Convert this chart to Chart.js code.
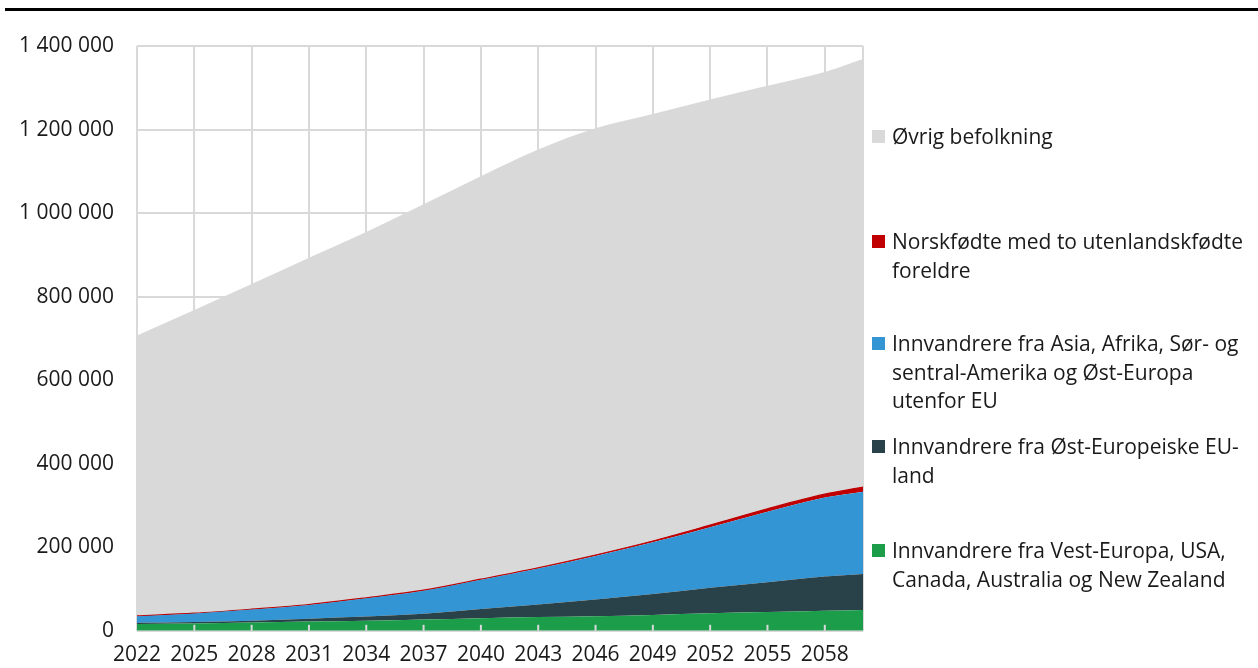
<!DOCTYPE html>
<html>
<head>
    <title>Befolkning</title>
    <script src="https://cdn.jsdelivr.net/npm/chart.js"></script>
    <style>
body{
    margin: 0;
    background-color: #ffffff;
    font-family: "Open Sans", sans-serif;
}
#wrap{
    position: relative;
    width: 1258px;
    height: 668px;
}
#topline{
    position: absolute;
    left: 5px;
    right: 0;
    top: 8px;
    height: 3px;
    background: #000000;
}
.legend-item{
    position: absolute;
    left: 872px;
    width: 384px;
    font-size: 21px;
    line-height: 28.5px;
    color: #1a1a1a;
}
.legend-item .box{
    position: absolute;
    left: 0;
    top: 8px;
    width: 13px;
    height: 13px;
}
.legend-item .txt{
    margin-left: 20px;
    width: 364px;
}
    </style>
</head>
<body>
<div id="wrap">
    <div id="topline"></div>
    <canvas id="popChart"></canvas>
    <div id="legend"></div>
</div>

<script>
const years = [2022, 2025, 2028, 2031, 2034, 2037, 2040, 2043, 2046, 2049, 2052, 2055, 2058, 2060];
const tickYears = [2022, 2025, 2028, 2031, 2034, 2037, 2040, 2043, 2046, 2049, 2052, 2055, 2058, 2060];

const seriesNames = [
    'Innvandrere fra Vest-Europa, USA, Canada, Australia og New Zealand',
    'Innvandrere fra Øst-Europeiske EU-land',
    'Innvandrere fra Asia, Afrika, Sør- og sentral-Amerika og Øst-Europa utenfor EU',
    'Norskfødte med to utenlandskfødte foreldre',
    'Øvrig befolkning'
];
const seriesColors = ['#1c9d4a', '#29424a', '#3395d3', '#c00000', '#d9d9d9'];

// values per series (persons), bottom to top of the stack
const vestEuropa = [16000, 17500, 20000, 22000, 24000, 27000, 30000, 33000, 35000, 38000, 42000, 45000, 48000, 50000];
const ostEU      = [3000, 3500, 4000, 7000, 10000, 14000, 22000, 30000, 40000, 50000, 61000, 71000, 82000, 86000];
const asiaAfrika = [16000, 20500, 27000, 33000, 44000, 55000, 70000, 86000, 104000, 124000, 145000, 169000, 189000, 197000];
const norskfodte = [500, 600, 800, 1000, 1000, 1200, 1500, 2000, 2500, 3000, 5000, 7000, 8000, 11000];
const ovrige     = [671500, 725900, 778200, 830000, 876000, 923800, 964500, 1001000, 1021500, 1022000, 1019000, 1013000, 1011000, 1025000];

const allSeries = [vestEuropa, ostEU, asiaAfrika, norskfodte, ovrige];

function spaced(v) {
    return String(v).replace(/\B(?=(\d{3})+(?!\d))/g, ' ');
}

const datasets = allSeries.map((vals, i) => ({
    label: seriesNames[i],
    data: vals.map((v, j) => ({x: years[j], y: v})),
    backgroundColor: seriesColors[i],
    borderColor: seriesColors[i],
    borderWidth: i === 3 ? 1.2 : 0,
    pointRadius: 0,
    cubicInterpolationMode: 'monotone',
    fill: i === 0 ? 'origin' : '-1'
}));

// small tick marks that sit inside the plot, over the areas
const innerTicks = {
    id: 'innerTicks',
    afterDatasetsDraw(chart) {
        const ctx = chart.ctx;
        const xs = chart.scales.x;
        const bottom = chart.chartArea.bottom;
        ctx.save();
        ctx.strokeStyle = '#d9d9d9';
        ctx.lineWidth = 2;
        tickYears.slice(1, -1).forEach(yr => {
            const px = xs.getPixelForValue(yr);
            ctx.beginPath();
            ctx.moveTo(px, bottom - 6);
            ctx.lineTo(px, bottom);
            ctx.stroke();
        });
        ctx.restore();
    }
};

Chart.defaults.font.family = '"Open Sans", sans-serif';
Chart.defaults.font.size = 21;
Chart.defaults.color = '#1a1a1a';

new Chart(document.getElementById('popChart'), {
    type: 'line',
    data: {datasets: datasets},
    plugins: [innerTicks],
    options: {
        responsive: true,
        maintainAspectRatio: false,
        animation: false,
        layout: {padding: {top: 46, right: 395, bottom: -12, left: 0}},
        plugins: {
            legend: {display: false},
            tooltip: {enabled: false}
        },
        scales: {
            x: {
                type: 'linear',
                min: 2022,
                max: 2060,
                afterBuildTicks: s => { s.ticks = tickYears.map(v => ({value: v})); },
                ticks: {
                    padding: 12,
                    maxRotation: 0,
                    autoSkip: false,
                    callback: v => v === 2060 ? '' : String(v)
                },
                grid: {color: '#d9d9d9', lineWidth: 2, drawTicks: false},
                border: {display: false}
            },
            y: {
                stacked: true,
                min: 0,
                max: 1400000,
                afterFit: s => { s.width = 137; },
                ticks: {
                    stepSize: 200000,
                    padding: 23,
                    callback: v => spaced(v)
                },
                grid: {color: '#d9d9d9', lineWidth: 2, drawTicks: false},
                border: {display: false}
            }
        }
    }
});

// html legend, top item first
const legendTops = [122, 227, 329, 432, 536];
const legendEl = document.getElementById('legend');
[4, 3, 2, 1, 0].forEach((idx, k) => {
    const item = document.createElement('div');
    item.className = 'legend-item';
    item.style.top = legendTops[k] + 'px';
    item.innerHTML = '<span class="box" style="background:' + seriesColors[idx] + '"></span>' +
        '<div class="txt">' + seriesNames[idx] + '</div>';
    legendEl.appendChild(item);
});
</script>
</body>
</html>
